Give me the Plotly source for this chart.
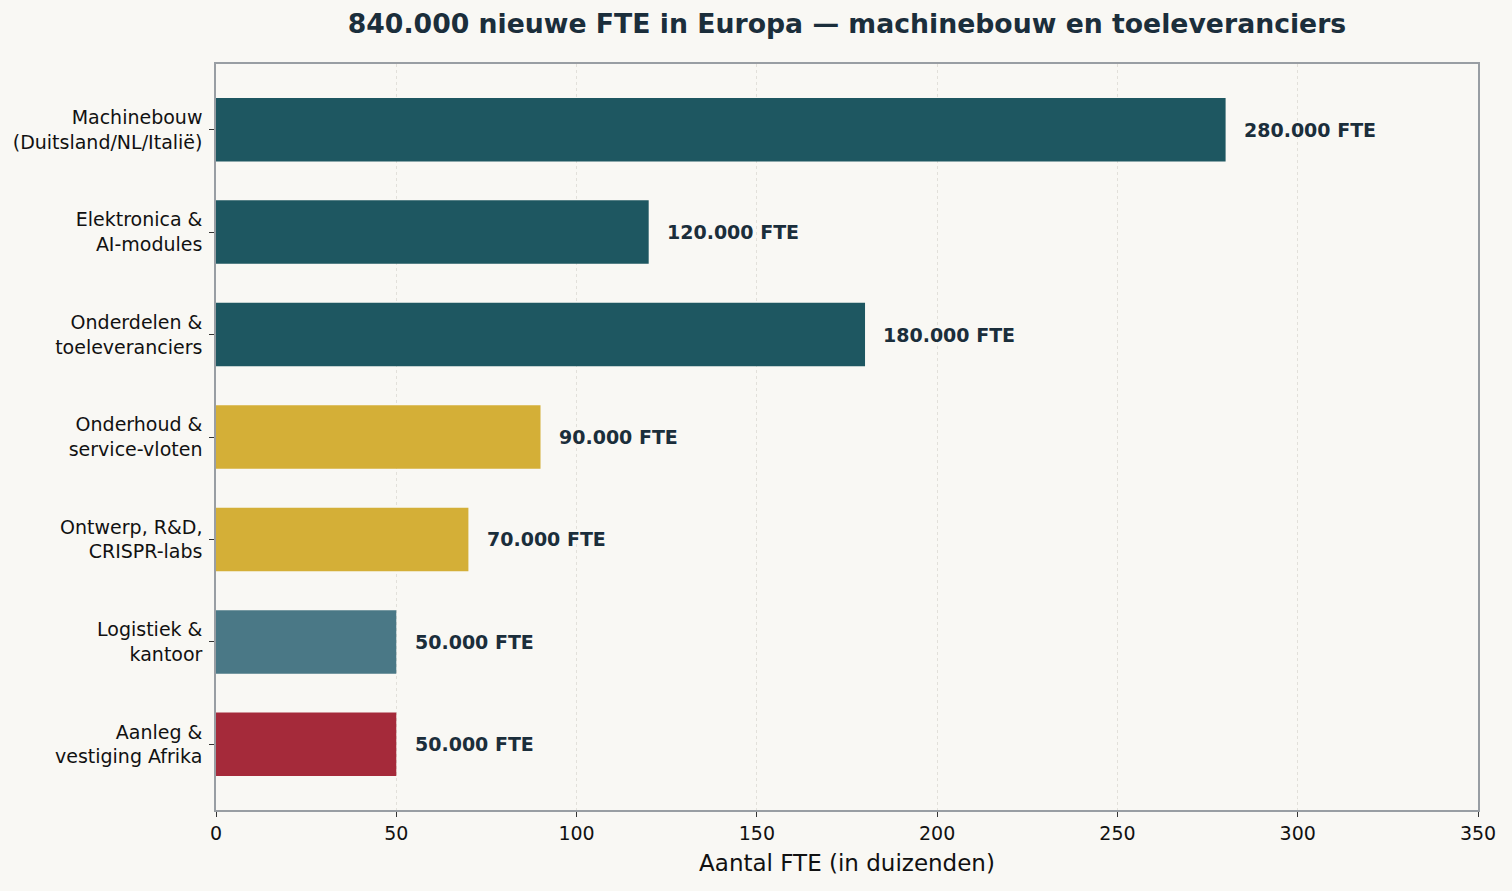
import plotly.graph_objects as go

categories = [
    "Machinebouw<br>(Duitsland/NL/Italië)",
    "Elektronica &<br>AI-modules",
    "Onderdelen &<br>toeleveranciers",
    "Onderhoud &<br>service-vloten",
    "Ontwerp, R&D,<br>CRISPR-labs",
    "Logistiek &<br>kantoor",
    "Aanleg &<br>vestiging Afrika",
]
values = [280, 120, 180, 90, 70, 50, 50]
labels = ["280.000 FTE", "120.000 FTE", "180.000 FTE", "90.000 FTE", "70.000 FTE", "50.000 FTE", "50.000 FTE"]
colors = ["#1e5761", "#1e5761", "#1e5761", "#d4af37", "#d4af37", "#4a7886", "#a52a3a"]
x_ticks = [0, 50, 100, 150, 200, 250, 300, 350]

title = "840.000 nieuwe FTE in Europa — machinebouw en toeleveranciers"
x_title = "Aantal FTE (in duizenden)"

bg = "#f9f8f4"
dark = "#1b2e3b"
font = "DejaVu Sans"

fig = go.Figure()
fig.add_trace(go.Bar(
    y=list(range(len(categories))),
    x=values,
    orientation="h",
    width=0.62,
    marker=dict(color=colors, line=dict(width=0)),
    hoverinfo="skip",
))

for i, (v, t) in enumerate(zip(values, labels)):
    fig.add_annotation(
        x=v + 4.5, y=i, text="<b>" + t + "</b>", showarrow=False,
        xanchor="left", yanchor="middle",
        font=dict(family=font, size=19, color=dark),
    )

fig.update_layout(
    width=1512, height=891,
    paper_bgcolor=bg, plot_bgcolor=bg,
    margin=dict(l=216, r=34, t=64, b=81),
    showlegend=False,
    title=dict(
        text="<b>" + title + "</b>", x=0.5, xanchor="center", xref="paper",
        y=1 - 24 / 891, yanchor="middle", yref="container",
        font=dict(family=font, size=26.7, color=dark),
    ),
    font=dict(family=font, size=19, color="#111111"),
    xaxis=dict(
        range=[0, 350], tickvals=x_ticks, ticktext=[str(t) for t in x_ticks],
        showgrid=True, gridcolor="#e2e0da", griddash="dot", gridwidth=1,
        zeroline=False, showline=True, linecolor="#999ea3", linewidth=1.5, mirror=True,
        ticks="outside", ticklen=5, tickcolor="#333333", tickwidth=1,
        tickfont=dict(family=font, size=19, color="#111111"),
        title=dict(text=x_title, font=dict(family=font, size=23, color="#111111"), standoff=12),
    ),
    yaxis=dict(
        range=[6.641, -0.641], tickvals=list(range(len(categories))), ticktext=categories,
        showgrid=False, zeroline=False, showline=True, linecolor="#999ea3", linewidth=1.5, mirror=True,
        ticks="outside", ticklen=5, tickcolor="#333333", tickwidth=1,
        tickfont=dict(family=font, size=19, color="#111111"),
        ticklabelstandoff=3,
    ),
)

fig.write_html(
    "out.html",
    config={"displayModeBar": False},
    post_script="document.body.style.margin='0';document.body.style.background='" + bg + "';",
)
